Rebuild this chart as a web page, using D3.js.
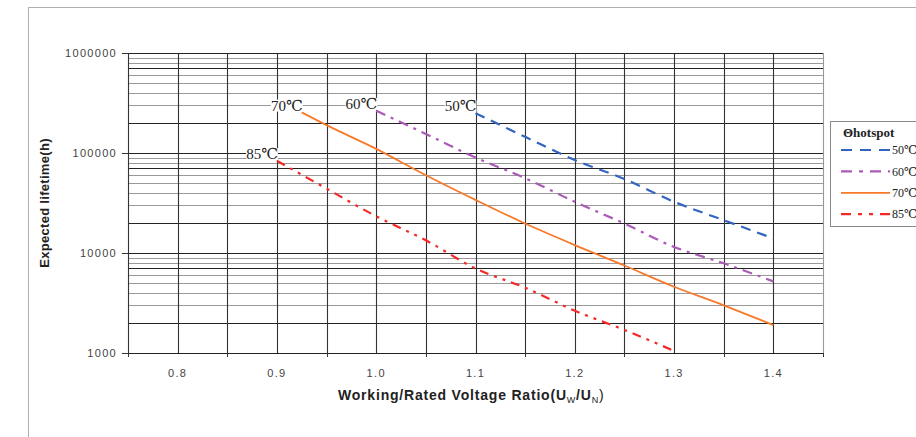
<!DOCTYPE html>
<html>
<head>
<meta charset="utf-8">
<script src="https://cdn.jsdelivr.net/npm/d3@7"></script>
<style>
  body { margin: 0; background: #fff; }
  svg { display: block; }
  .tick-label { font-family: Arial, "Liberation Sans", sans-serif; font-size: 11px; fill: #444; letter-spacing: 1.3px; }
  .axis-title { font-family: Arial, "Liberation Sans", sans-serif; font-weight: bold; fill: #222; }
  .serif { font-family: "Times New Roman", "Liberation Serif", "DejaVu Serif", serif; fill: #222; }
</style>
</head>
<body>
<svg width="916" height="437"></svg>
<script>
// voltage ratio, expected life (h)
var xs50 = [1.10, 1.15, 1.20, 1.25, 1.30, 1.35, 1.40];
var life50 = [250000, 145000, 85000, 55000, 32500, 21300, 14000];

var xs60 = [1.00, 1.05, 1.10, 1.15, 1.20, 1.25, 1.30, 1.35, 1.40];
var life60 = [265000, 155000, 90000, 56000, 32500, 19700, 11500, 7900, 5200];

var xs70 = [0.925, 0.95, 1.00, 1.05, 1.10, 1.15, 1.20, 1.25, 1.30, 1.35, 1.40];
var life70 = [255000, 190000, 110000, 60000, 34000, 19700, 12000, 7500, 4600, 3000, 1900];

var xs85 = [0.90, 0.95, 1.00, 1.05, 1.10, 1.15, 1.20, 1.25, 1.30];
var life85 = [83500, 44000, 23300, 13400, 7000, 4500, 2650, 1700, 1050];

var seriesNames = ["50℃", "60℃", "70℃", "85℃"];
var xTickLabels = [0.8, 0.9, 1.0, 1.1, 1.2, 1.3, 1.4];
var yTickLabels = [1000, 10000, 100000, 1000000];

var colors = ["#3264c0", "#ac5ab8", "#f8792a", "#f52828"];
var dashes = ["10,7", "10,6,3,6", null, "9,6,3,6,3,6"];

var svg = d3.select("svg");

var pLeft = 128, pRight = 823, pTop = 53, pBottom = 353;

var x = d3.scaleLinear().domain([0.75, 1.45]).range([pLeft, pRight]);
var y = d3.scaleLog().domain([1000, 1000000]).range([pBottom, pTop]);

// outer frame
svg.append("rect")
    .attr("x", 28.5).attr("y", 7.5)
    .attr("width", 1000).attr("height", 1000)
    .attr("fill", "none").attr("stroke", "#b0b0b0");

// horizontal grid (major + minor)
var hLines = [];
for (var e = 3; e < 6; e++) {
  for (var k = 1; k < 10; k++) hLines.push({v: k * Math.pow(10, e), k: k});
}
hLines.push({v: 1000000, k: 1});

svg.append("g").selectAll("line")
    .data(hLines)
  .enter().append("line")
    .attr("x1", pLeft).attr("x2", pRight)
    .attr("y1", function(d) { return Math.round(y(d.v)) + 0.5; })
    .attr("y2", function(d) { return Math.round(y(d.v)) + 0.5; })
    .attr("stroke", function(d) { return d.k == 1 || d.k == 2 || d.k == 7 ? "#222" : "#999"; })
    .attr("stroke-width", function(d) { return d.k == 1 ? 1.2 : 1; });

// vertical grid every 0.05
var vLines = d3.range(15).map(function(i) { return 0.75 + i * 0.05; });
svg.append("g").selectAll("line")
    .data(vLines)
  .enter().append("line")
    .attr("x1", function(d) { return Math.round(x(d)) + 0.5; })
    .attr("x2", function(d) { return Math.round(x(d)) + 0.5; })
    .attr("y1", pTop).attr("y2", pBottom)
    .attr("stroke", function(d, i) { return i == 14 ? "#999" : "#333"; })
    .attr("stroke-width", 1.1);

// axes lines
svg.append("line")
    .attr("x1", pLeft + 0.5).attr("x2", pLeft + 0.5)
    .attr("y1", pTop).attr("y2", pBottom)
    .attr("stroke", "#333");
svg.append("line")
    .attr("x1", pLeft).attr("x2", pRight)
    .attr("y1", pBottom + 0.5).attr("y2", pBottom + 0.5)
    .attr("stroke", "#222").attr("stroke-width", 1.2);

// x tick marks between labels
svg.append("g").selectAll("line")
    .data(vLines.filter(function(d, i) { return i % 2 == 0; }))
  .enter().append("line")
    .attr("x1", function(d) { return Math.round(x(d)) + 0.5; })
    .attr("x2", function(d) { return Math.round(x(d)) + 0.5; })
    .attr("y1", pBottom).attr("y2", pBottom + 4)
    .attr("stroke", "#333");

svg.append("g").selectAll("text")
    .data(xTickLabels)
  .enter().append("text")
    .attr("class", "tick-label")
    .attr("x", function(d) { return x(d); })
    .attr("y", pBottom + 24)
    .attr("text-anchor", "middle")
    .text(function(d) { return d3.format(".1f")(d); });

// y ticks
svg.append("g").selectAll("line")
    .data(yTickLabels)
  .enter().append("line")
    .attr("x1", pLeft - 6).attr("x2", pLeft)
    .attr("y1", function(d) { return Math.round(y(d)) + 0.5; })
    .attr("y2", function(d) { return Math.round(y(d)) + 0.5; })
    .attr("stroke", "#333");

svg.append("g").selectAll("text")
    .data(yTickLabels)
  .enter().append("text")
    .attr("class", "tick-label")
    .attr("x", pLeft - 11)
    .attr("y", function(d) { return y(d); })
    .attr("dy", "0.35em")
    .attr("text-anchor", "end")
    .text(function(d) { return d; });

// axis titles
var xt = svg.append("text")
    .attr("class", "axis-title")
    .attr("x", 338).attr("y", 400)
    .style("font-size", "14px")
    .style("letter-spacing", "0.8px");
xt.append("tspan").text("Working/Rated Voltage Ratio(U");
xt.append("tspan").attr("dy", 3).style("font-size", "9px").style("font-weight", "normal").text("W");
xt.append("tspan").attr("dy", -3).text("/U");
xt.append("tspan").attr("dy", 3).style("font-size", "9px").style("font-weight", "normal").text("N");
xt.append("tspan").attr("dy", -3).style("font-weight", "normal").text(")");

svg.append("text")
    .attr("class", "axis-title")
    .attr("transform", "translate(49,203) rotate(-90)")
    .attr("text-anchor", "middle")
    .style("font-size", "13px")
    .style("letter-spacing", "0.3px")
    .text("Expected lifetime(h)");

// series
var series = [
  {name: seriesNames[0], xs: xs50, ys: life50},
  {name: seriesNames[1], xs: xs60, ys: life60},
  {name: seriesNames[2], xs: xs70, ys: life70},
  {name: seriesNames[3], xs: xs85, ys: life85}
];

var line = d3.line()
    .x(function(d) { return x(d[0]); })
    .y(function(d) { return y(d[1]); })
    .curve(d3.curveMonotoneX);

svg.append("g").selectAll("path")
    .data(series)
  .enter().append("path")
    .attr("d", function(s) { return line(d3.zip(s.xs, s.ys)); })
    .attr("fill", "none")
    .attr("stroke", function(s, i) { return colors[i]; })
    .attr("stroke-width", function(s, i) { return i == 2 ? 1.8 : 2.2; })
    .attr("stroke-dasharray", function(s, i) { return dashes[i]; });

// start labels with white backing
var lab = svg.append("g").selectAll("g")
    .data(series)
  .enter().append("g");

lab.append("rect").attr("fill", "#fff");
lab.append("text")
    .attr("class", "serif")
    .attr("x", function(s) { return x(s.xs[0]) + 1; })
    .attr("y", function(s) { return y(s.ys[0]) - 7; })
    .attr("dy", "0.35em")
    .attr("text-anchor", "end")
    .style("font-size", "15px")
    .text(function(s) { return s.name; });

lab.each(function() {
  var g = d3.select(this);
  var b = g.select("text").node().getBBox();
  g.select("rect")
      .attr("x", b.x).attr("y", b.y + 2)
      .attr("width", b.width).attr("height", b.height - 4);
});

// legend
var lg = svg.append("g").attr("transform", "translate(830,121)");
lg.append("rect")
    .attr("x", 0.5).attr("y", 0.5)
    .attr("width", 200).attr("height", 105)
    .attr("fill", "#fff").attr("stroke", "#888");
lg.append("text")
    .attr("class", "serif")
    .attr("x", 13).attr("y", 16)
    .style("font-size", "13px").style("font-weight", "bold")
    .text("Θhotspot");

var item = lg.selectAll("g.item")
    .data(series)
  .enter().append("g")
    .attr("class", "item")
    .attr("transform", function(s, i) { return "translate(0," + (29 + i * 21.4) + ")"; });

item.append("line")
    .attr("x1", 11).attr("x2", 60)
    .attr("stroke", function(s, i) { return colors[i]; })
    .attr("stroke-width", function(s, i) { return i == 2 ? 1.8 : 2.2; })
    .attr("stroke-dasharray", function(s, i) { return dashes[i] ? dashes[i].split(",").map(function(v) { return +v + 1; }).join(",") : null; });

item.append("text")
    .attr("class", "serif")
    .attr("x", 62).attr("dy", "0.35em")
    .style("font-size", "12px")
    .text(function(s) { return s.name; });
</script>
</body>
</html>
